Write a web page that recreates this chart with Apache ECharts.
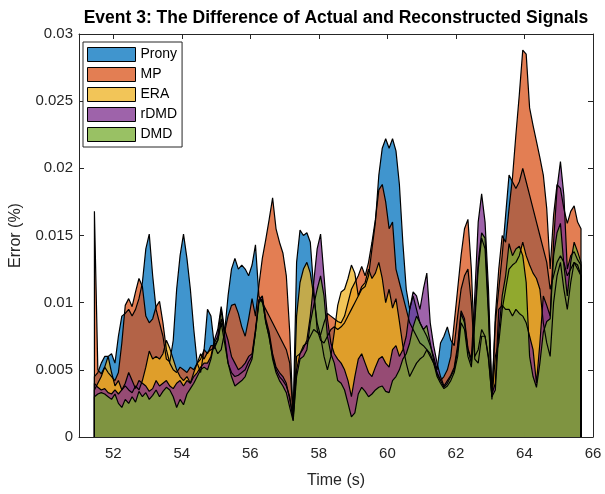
<!DOCTYPE html>
<html>
<head>
<meta charset="utf-8">
<script src="https://cdn.jsdelivr.net/npm/echarts@6/dist/echarts.min.js"></script>
<style>
  html, body { margin: 0; padding: 0; background: #fff; }
  #chart { width: 605px; height: 494px; }
</style>
</head>
<body>
<div id="chart"></div>
<script>
// Sampling grid of the error traces (seconds)
const startTime = 51.45;
const sampleStep = 0.1;

// Error (%) per method, one value per sample
const prony = [
  .0045, .0048, .0055, .006, .006,
  .0062, .0055, .0075, .009, .0092, .0095, .009, .0095, .0103, .0115,
  .014, .0151, .012, .0095, .0085, .0075, .0058, .0056, .0072, .011,
  .0135, .0151, .0133, .011, .008, .0055, .0048, .0065, .0095, .009,
  .0068, .0062, .0065, .0078, .0105, .0125, .0133, .0125, .0128, .0125,
  .012, .0128, .0143, .0105, .01, .0095, .009, .0085, .008, .0075,
  .007, .0065, .0055, .0015, .013, .0154, .015, .0152, .0145, .011,
  .008, .0072, .007, .0075, .008, .0082, .008, .0082, .0085, .009,
  .0095, .01, .0105, .011, .0112, .012, .014, .016, .0195, .0215,
  .0222, .0215, .0222, .0213, .0188, .0145, .011, .0095, .0105, .0095,
  .0085, .008, .0075, .0068, .006, .005, .007, .0075, .0082, .0072,
  .0068, .009, .011, .012, .0125, .01, .0058, .0055, .0075, .0075,
  .0058, .003, .0085, .011, .0135, .0165, .0195, .019, .0185, .019,
  .02, .019, .018, .017, .016, .015, .014, .013, .011, .012,
  .013, .0135, .013, .012, .0125, .013, .0125, .012
];
const mp = [
  .0168, .005, .0047, .0052, .0048,
  .0045, .0042, .0048, .007, .0098, .0103, .0097, .0108, .0118, .0112,
  .009, .0085, .0088, .0097, .0101, .0085, .0065, .0055, .005, .0048,
  .0052, .005, .0048, .0052, .005, .0055, .0058, .0065, .0062, .0068,
  .0068, .0072, .0088, .0078, .009, .0098, .0099, .0092, .0082, .0075,
  .0088, .0103, .009, .0113, .0133, .0147, .0162, .0178, .0155, .0145,
  .0137, .012, .0078, .0015, .006, .0062, .0068, .007, .0075, .008,
  .0078, .0076, .0085, .0092, .009, .0088, .0086, .0085, .009, .01,
  .011, .0115, .012, .0127, .012, .013, .0145, .0162, .0184, .0188,
  .0175, .0155, .016, .0125, .0115, .0105, .0095, .0085, .008, .0075,
  .007, .0068, .0065, .006, .0055, .0048, .0042, .0045, .005, .006,
  .0085, .011, .0135, .0155, .0162, .0125, .006, .0065, .008, .0075,
  .006, .003, .009, .0125, .015, .0145, .017, .0193, .0225, .0255,
  .0288, .0285, .0245, .0232, .022, .0208, .0195, .017, .0125, .0165,
  .0188, .0185, .017, .0159, .0168, .0172, .016, .0155
];
const era = [
  .0035, .004, .0045, .0052, .006,
  .0048, .0038, .0042, .0035, .0038, .0035, .0033, .0038, .0035, .0042,
  .0052, .0064, .0058, .006, .0058, .0062, .0072, .0066, .0058, .005,
  .0045, .0042, .0045, .004, .0048, .0055, .0062, .0058, .0063, .0065,
  .0066, .0072, .0085, .007, .0055, .0048, .0045, .0046, .0048, .005,
  .0056, .006, .0078, .0102, .0102, .0086, .0074, .006, .005, .0045,
  .0042, .0038, .003, .0013, .009, .0115, .0125, .013, .0122, .0105,
  .0085, .0075, .006, .005, .006, .0078, .0098, .0108, .011, .0118,
  .0128, .0122, .0105, .0112, .0115, .0125, .0118, .0122, .013, .0118,
  .01, .011, .0096, .0103, .0086, .0068, .0055, .0045, .005, .0055,
  .0058, .006, .0065, .0062, .0055, .0045, .004, .0036, .0038, .0042,
  .0048, .006, .0085, .008, .006, .0052, .0085, .0125, .0148, .014,
  .009, .0028, .006, .007, .0095, .011, .0125, .0128, .013, .0135,
  .0145, .0135, .0128, .0122, .0118, .011, .0085, .007, .006, .01,
  .012, .013, .011, .0095, .0115, .013, .0128, .012
];
const rdmd = [
  .004, .0037, .0035, .0036, .0033,
  .0032, .0035, .0032, .0035, .004, .0048, .0042, .0036, .0042, .004,
  .0038, .0034, .0036, .0042, .0038, .004, .0042, .0038, .0036, .004,
  .0042, .0038, .0042, .004, .0045, .0048, .0052, .0055, .0055, .006,
  .0072, .008, .0097, .008, .0072, .006, .0055, .005, .0052, .0055,
  .006, .0062, .008, .0102, .0105, .0088, .0078, .0062, .0052, .0048,
  .0045, .004, .0028, .0014, .005, .0062, .0066, .0072, .009, .0115,
  .014, .0151, .012, .0088, .007, .0062, .0058, .0055, .005, .0042,
  .003, .0045, .0058, .0062, .0055, .0048, .0045, .0052, .0058, .006,
  .0055, .0052, .0065, .0068, .006, .0065, .0075, .0095, .0108, .0105,
  .0095, .011, .0122, .0085, .0068, .0055, .0045, .0038, .0042, .0046,
  .0052, .0068, .0094, .0088, .0066, .0058, .0105, .016, .0181, .016,
  .011, .0032, .004, .0095, .0098, .0095, .0095, .009, .0095, .0092,
  .009, .0085, .0075, .0065, .004, .007, .0105, .0098, .009, .0145,
  .0185, .0205, .018, .0125, .0135, .0138, .0132, .0128
];
const dmd = [
  .003, .0032, .0033, .0032, .003,
  .0028, .0032, .0025, .0022, .0028, .0025, .003, .0026, .0034, .003,
  .0033, .0028, .0031, .0035, .003, .0034, .0037, .0035, .003, .0022,
  .0028, .0024, .0032, .0036, .004, .0045, .005, .0052, .005, .0058,
  .007, .0075, .0095, .0075, .0055, .0045, .0038, .004, .0042, .0045,
  .0052, .0058, .0078, .01, .0103, .0085, .0075, .0058, .0048, .0042,
  .0038, .0033, .0022, .0012, .0045, .0058, .006, .0065, .0085, .0098,
  .011, .012, .0105, .0075, .0062, .0055, .0042, .004, .0035, .0025,
  .0015, .0018, .0032, .0037, .0034, .003, .0032, .0035, .0037, .0038,
  .0034, .0033, .0042, .0045, .005, .0058, .0062, .007, .0082, .009,
  .0085, .008, .0083, .007, .0057, .0047, .0042, .0037, .004, .0045,
  .005, .0065, .0092, .0085, .0065, .0055, .009, .013, .0152, .0148,
  .0095, .003, .0035, .0078, .0105, .012, .0144, .0135, .014, .0142,
  .0135, .0115, .006, .0045, .0037, .0055, .0078, .0086, .0088, .0135,
  .0152, .0159, .0128, .0105, .013, .0145, .0138, .013
];

const methodNames = ['Prony', 'MP', 'ERA', 'rDMD', 'DMD'];
const methodValues = [prony, mp, era, rdmd, dmd];
const methodFills = [
  'rgba(0,114,189,0.75)',
  'rgba(217,83,25,0.75)',
  'rgba(237,177,32,0.75)',
  'rgba(126,47,142,0.75)',
  'rgba(119,172,48,0.75)'
];

const xTickValues = [52, 54, 56, 58, 60, 62, 64, 66];
const axisColor = '#262626';
const font = 'Liberation Sans, Arial, Helvetica, sans-serif';

const times = prony.map((_, i) => +(startTime + i * sampleStep).toFixed(2));

// Each area is closed down to the baseline at both ends, like a patch outline
function toAreaData(values) {
  const pts = values.map((v, i) => [times[i], v]);
  return [[times[0], 0], ...pts, [times[times.length - 1], 0]];
}

const series = methodNames.map((name, k) => ({
  name,
  type: 'line',
  data: toAreaData(methodValues[k]),
  symbol: 'none',
  showSymbol: false,
  color: methodFills[k],
  lineStyle: { color: '#000', width: 1.2 },
  areaStyle: { color: methodFills[k], opacity: 1 },
  emphasis: { disabled: true },
  xAxisIndex: 0,
  yAxisIndex: 0
}));

const tickStyle = { show: true, inside: true, length: 5, lineStyle: { color: axisColor, width: 1 } };
const lineStyleAxis = { show: true, onZero: false, lineStyle: { color: axisColor, width: 1 } };

const chart = echarts.init(document.getElementById('chart'), null, { renderer: 'canvas' });
chart.setOption({
  animation: false,
  backgroundColor: '#fff',
  grid: { left: 78, right: 12, top: 34, bottom: 50, containLabel: false },
  graphic: [{
    type: 'text',
    x: 336,
    y: 9,
    style: {
      text: 'Event 3: The Difference of Actual and Reconstructed Signals',
      font: 'bold 17.5px ' + font,
      fill: '#000',
      textAlign: 'center',
      textVerticalAlign: 'top'
    }
  }],
  legend: {
    orient: 'vertical',
    left: 83,
    top: 42,
    padding: [5, 5, 5, 4],
    itemGap: 5,
    itemWidth: 48,
    itemHeight: 14,
    icon: 'rect',
    backgroundColor: '#fff',
    borderColor: axisColor,
    borderWidth: 1,
    borderRadius: 0,
    textStyle: { fontFamily: font, fontSize: 14, color: '#000' },
    data: methodNames.map((name, k) => ({
      name,
      itemStyle: { color: methodFills[k], borderColor: '#000', borderWidth: 1 }
    }))
  },
  xAxis: [{
    type: 'value',
    position: 'bottom',
    min: 51,
    max: 66,
    axisLine: lineStyleAxis,
    axisTick: Object.assign({ customValues: xTickValues }, tickStyle),
    axisLabel: { customValues: xTickValues, color: axisColor, fontFamily: font, fontSize: 15, margin: 9 },
    splitLine: { show: false },
    name: 'Time (s)',
    nameLocation: 'middle',
    nameGap: 36,
    nameTextStyle: { color: axisColor, fontFamily: font, fontSize: 16 }
  }, {
    type: 'value',
    position: 'top',
    min: 51,
    max: 66,
    axisLine: lineStyleAxis,
    axisTick: Object.assign({ customValues: xTickValues }, tickStyle),
    axisLabel: { show: false },
    splitLine: { show: false }
  }],
  yAxis: [{
    type: 'value',
    position: 'left',
    min: 0,
    max: 0.03,
    interval: 0.005,
    axisLine: lineStyleAxis,
    axisTick: tickStyle,
    axisLabel: {
      color: axisColor, fontFamily: font, fontSize: 15, margin: 6,
      formatter: v => String(+v.toFixed(3))
    },
    splitLine: { show: false },
    name: 'Error (%)',
    nameLocation: 'middle',
    nameGap: 55,
    nameTextStyle: { color: axisColor, fontFamily: font, fontSize: 16 }
  }, {
    type: 'value',
    position: 'right',
    min: 0,
    max: 0.03,
    interval: 0.005,
    axisLine: lineStyleAxis,
    axisTick: tickStyle,
    axisLabel: { show: false },
    splitLine: { show: false }
  }],
  series
});
</script>
</body>
</html>
